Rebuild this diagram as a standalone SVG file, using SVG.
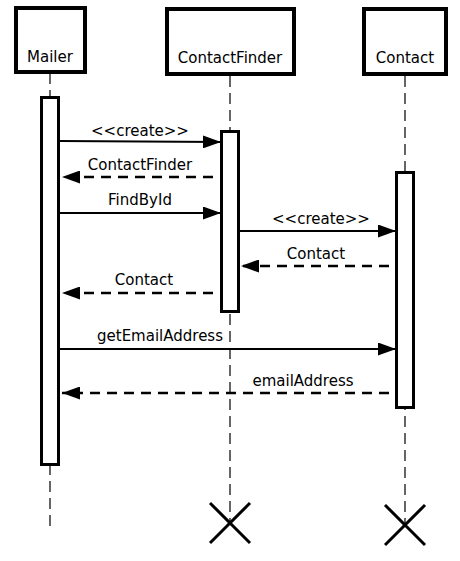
<svg xmlns="http://www.w3.org/2000/svg" width="460" height="561" viewBox="0 0 460 561">
<style>
.hdr{fill:#fff;stroke:#000;stroke-width:4}
.act{fill:#fff;stroke:#000;stroke-width:3}
.life{stroke:#000;stroke-width:1.2;stroke-dasharray:11,6;fill:none}
.msg{stroke:#000;stroke-width:2.2;fill:none}
.ret{stroke:#000;stroke-width:2.5;stroke-dasharray:10,7;fill:none}
.x{stroke:#000;stroke-width:3}
text{font-family:"DejaVu Sans",sans-serif;font-size:15px;fill:#000;text-anchor:middle}
</style>
<defs>
<marker id="ah" markerWidth="18" markerHeight="13" refX="18" refY="6.5" orient="auto" markerUnits="userSpaceOnUse">
<path d="M0,0 L18,6.5 L0,13 Z" fill="#000"/>
</marker>
</defs>
<g id="lifelines">
<line class="life" x1="50" y1="73" x2="50" y2="526"/>
<line class="life" x1="230" y1="76" x2="230" y2="523"/>
<line class="life" x1="405" y1="76" x2="405" y2="525"/>
</g>
<g id="Mailer">
<rect class="hdr" x="16" y="8" width="69" height="64"/>
<text x="50" y="62">Mailer</text>
<rect class="act" x="41.5" y="97.5" width="17" height="367"/>
</g>
<g id="ContactFinder">
<rect class="hdr" x="167" y="9" width="127" height="65"/>
<text x="230" y="63">ContactFinder</text>
<rect class="act" x="221.5" y="131.5" width="17" height="180"/>
<line class="x" x1="210" y1="503" x2="250" y2="543"/>
<line class="x" x1="250" y1="503" x2="210" y2="543"/>
</g>
<g id="Contact">
<rect class="hdr" x="364" y="9" width="82" height="65"/>
<text x="405" y="63">Contact</text>
<rect class="act" x="396.5" y="172.5" width="17" height="235"/>
<line class="x" x1="385" y1="505" x2="425" y2="545"/>
<line class="x" x1="425" y1="505" x2="385" y2="545"/>
</g>
<g id="connectors">
<line class="msg" x1="60" y1="141" x2="221" y2="142" marker-end="url(#ah)"/>
<text x="140" y="136">&lt;&lt;create&gt;&gt;</text>
<line class="ret" x1="213" y1="177" x2="62" y2="177" marker-end="url(#ah)"/>
<text x="140" y="170">ContactFinder</text>
<line class="msg" x1="60" y1="213" x2="221" y2="213" marker-end="url(#ah)"/>
<text x="140" y="205">FindById</text>
<line class="msg" x1="237" y1="231" x2="396" y2="231" marker-end="url(#ah)"/>
<text x="321" y="224">&lt;&lt;create&gt;&gt;</text>
<line class="ret" x1="389" y1="266" x2="241" y2="266" marker-end="url(#ah)"/>
<text x="316" y="259">Contact</text>
<line class="ret" x1="213" y1="293" x2="62" y2="293" marker-end="url(#ah)"/>
<text x="144" y="285">Contact</text>
<line class="msg" x1="60" y1="349" x2="396" y2="349" marker-end="url(#ah)"/>
<text x="160" y="341">getEmailAddress</text>
<line class="ret" x1="389" y1="393" x2="62" y2="393" marker-end="url(#ah)"/>
<text x="303" y="386">emailAddress</text>
</g>
</svg>
